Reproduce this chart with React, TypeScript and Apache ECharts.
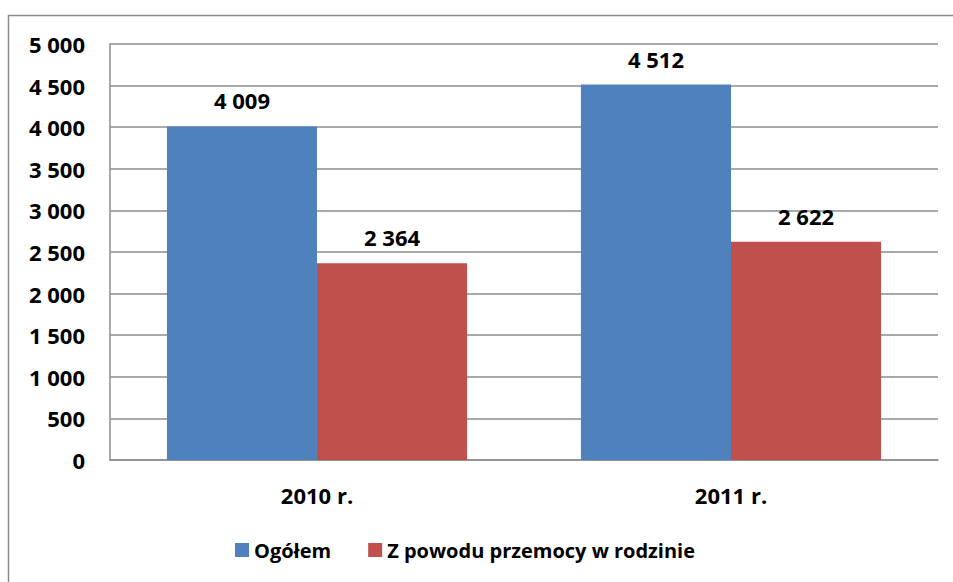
import React, { useEffect, useRef } from "react";
import * as echarts from "echarts";

const categories = ["2010 r.", "2011 r."];
const seriesNames = ["Ogółem", "Z powodu przemocy w rodzinie"];
const ogolem = [4009, 4512];
const przemoc = [2364, 2622];
const colors = ["#4F81BD", "#C0504D"];

const fmt = (v: number) => String(v).replace(/\B(?=(\d{3})+(?!\d))/g, " ");
const FONT = "'Open Sans', 'Noto Sans', sans-serif";

export default function App() {
  const ref = useRef<HTMLDivElement>(null);
  useEffect(() => {
    const chart = echarts.init(ref.current!, undefined, { renderer: "svg" });
    const labelStyle = {
      show: true,
      position: "top" as const,
      distance: 15,
      fontFamily: FONT,
      fontWeight: "bold" as const,
      fontSize: 22,
      color: "#000",
      formatter: (p: any) => fmt(p.value),
    };
    chart.setOption({
      animation: false,
      backgroundColor: "#fff",
      graphic: [
        {
          type: "rect",
          shape: { x: 8.5, y: 15.5, width: 1200, height: 1200 },
          style: { fill: "none", stroke: "#8c8c8c", lineWidth: 1.5 },
          silent: true,
          z: -1,
        },
      ],
      grid: { left: 110, right: 15, top: 44, bottom: 122, containLabel: false },
      legend: {
        bottom: 17,
        left: 230,
        itemWidth: 14,
        itemHeight: 14,
        itemGap: 37,
        icon: "rect",
        textStyle: { fontFamily: FONT, fontWeight: "bold", fontSize: 20, color: "#000" },
        data: seriesNames,
      },
      xAxis: {
        type: "category",
        data: categories,
        axisLine: { lineStyle: { color: "#8c8c8c", width: 1.5 } },
        axisTick: { show: false },
        axisLabel: {
          margin: 24,
          fontFamily: FONT,
          fontWeight: "bold",
          fontSize: 22,
          color: "#000",
        },
      },
      yAxis: {
        type: "value",
        min: 0,
        max: 5000,
        interval: 500,
        axisLine: { show: true, lineStyle: { color: "#8c8c8c", width: 1.5 } },
        axisTick: { show: false },
        splitLine: { lineStyle: { color: "#8c8c8c", width: 1.5 } },
        axisLabel: {
          margin: 25,
          fontFamily: FONT,
          fontWeight: "bold",
          fontSize: 22,
          color: "#000",
          formatter: (v: number) => fmt(v),
        },
      },
      series: [
        {
          name: seriesNames[0],
          type: "bar",
          data: ogolem,
          itemStyle: { color: colors[0] },
          barGap: "0%",
          barCategoryGap: "27.5%",
          label: labelStyle,
        },
        {
          name: seriesNames[1],
          type: "bar",
          data: przemoc,
          itemStyle: { color: colors[1] },
          barGap: "0%",
          barCategoryGap: "27.5%",
          label: labelStyle,
        },
      ],
    });
    return () => chart.dispose();
  }, []);
  return (
    <div
      ref={ref}
      style={{ position: "absolute", left: 0, top: 0, width: 953, height: 582 }}
    />
  );
}
